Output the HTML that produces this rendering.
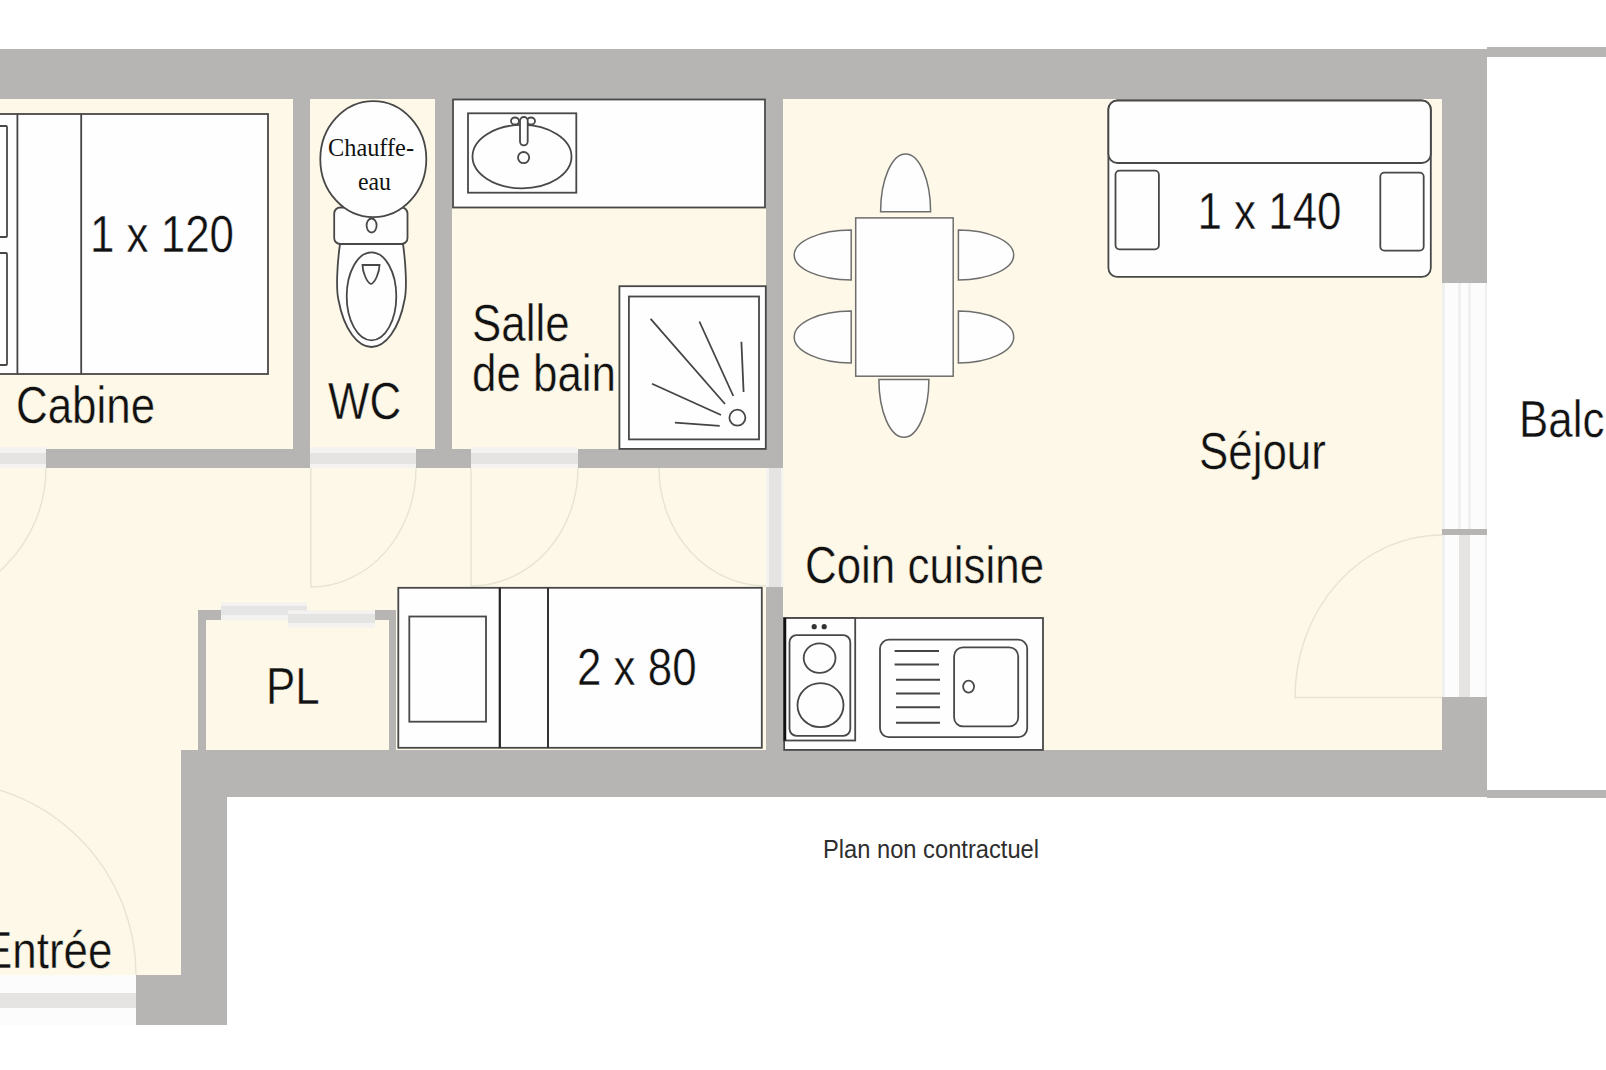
<!DOCTYPE html>
<html><head><meta charset="utf-8">
<style>
html,body{margin:0;padding:0;background:#fff;width:1606px;height:1070px;overflow:hidden}
svg{display:block}
text{font-family:"Liberation Sans",sans-serif;fill:#111}
.f{fill:#fefefe;stroke:#484848;stroke-width:1.8}
.t{fill:#fefefe;stroke:#6e6e6e;stroke-width:1.5}
.ow{stroke:#fefefe;stroke-width:0.4;paint-order:normal}
.ob{stroke:#fdf8e7;stroke-width:0.4;paint-order:normal}
.arc{fill:none;stroke:#e8e4d2;stroke-width:1.4}
</style></head><body>
<svg width="1606" height="1070" viewBox="0 0 1606 1070">
<!-- floor -->
<polygon points="0,99 1442,99 1442,750 181,750 181,975 0,975" fill="#fdf8e7"/>

<!-- door thresholds -->
<g fill="#f4f3f2">
<rect x="0" y="447" width="46" height="21"/>
<rect x="310" y="447" width="106" height="21"/>
<rect x="471" y="447" width="107" height="21"/>
<rect x="766" y="468" width="17" height="119"/>
</g>
<g fill="#fcfcfc">
<rect x="1442" y="283" width="45" height="246"/>
<rect x="1442" y="535" width="45" height="163"/>
<rect x="0" y="975" width="136" height="50"/>
</g>
<g fill="#e5e4e3">
<rect x="0" y="453" width="46" height="11"/>
<rect x="310" y="453" width="106" height="11"/>
<rect x="471" y="453" width="107" height="11"/>
<rect x="769" y="468" width="12" height="119"/>
<rect x="1459" y="535" width="11" height="163"/>
<rect x="0" y="993" width="136" height="15"/>
</g>
<g fill="#f0f0f0">
<rect x="1442" y="283" width="3" height="246"/>
<rect x="1458" y="283" width="3" height="246"/>
<rect x="1468" y="283" width="3" height="246"/>
<rect x="1485" y="283" width="2" height="414"/>
<rect x="1442" y="535" width="3" height="163"/>
</g>
<!-- walls -->
<g fill="#b6b5b3">
<rect x="0" y="49" width="1487" height="50"/>
<rect x="1442" y="49" width="45" height="234"/>
<rect x="1442" y="529" width="45" height="6"/>
<rect x="1442" y="697" width="45" height="100"/>
<rect x="181" y="750" width="1306" height="47"/>
<rect x="181" y="750" width="46" height="275"/>
<rect x="136" y="975" width="91" height="50"/>
<rect x="293" y="99" width="17" height="369"/>
<rect x="435" y="99" width="17" height="369"/>
<rect x="766" y="99" width="17" height="369"/>
<rect x="766" y="587" width="17" height="163"/>
<rect x="46" y="449" width="264" height="19"/>
<rect x="416" y="449" width="55" height="19"/>
<rect x="578" y="449" width="205" height="19"/>
<rect x="198" y="610" width="8" height="140"/>
<rect x="389" y="610" width="7" height="140"/>
<rect x="198" y="610" width="23" height="10"/>
<rect x="375" y="610" width="21" height="10"/>
<rect x="1487" y="47" width="119" height="10"/>
<rect x="1487" y="790" width="119" height="8"/>
</g>

<!-- PL sliding doors -->
<rect x="221" y="602.5" width="86" height="18" fill="#f3f2f1"/>
<rect x="221" y="606" width="86" height="9" fill="#e6e5e5"/>
<rect x="288" y="610.5" width="87" height="17" fill="#f3f2f1"/>
<rect x="288" y="614" width="87" height="9" fill="#e4e5e3"/>
<!-- door arcs -->
<g class="arc">
<path d="M46,468 A138,138 0 0 1 -92,606"/>
<path d="M310.8,468 L310.8,587 A105.2,119 0 0 0 416,468"/>
<path d="M471,468 L471,586 A107,118 0 0 0 578,468"/>
<path d="M659,468 A107,118 0 0 0 766,586"/>
<path d="M1442,535 A147,162.5 0 0 0 1295,697.5 L1442,697.5"/>
<path d="M136,975 A193.5,193.5 0 0 0 -57.5,781.5"/>
</g>

<!-- bed 1x120 -->
<rect class="f" x="-10" y="114" width="278" height="260"/>
<line x1="17.4" y1="114" x2="17.4" y2="374" stroke="#444" stroke-width="1.8"/>
<line x1="81.2" y1="114" x2="81.2" y2="374" stroke="#444" stroke-width="1.8"/>
<rect class="f" x="-20" y="126" width="27" height="111" rx="1"/>
<rect class="f" x="-20" y="253" width="27" height="112" rx="1"/>

<!-- WC -->
<rect class="f" x="334.2" y="207.5" width="73.3" height="36.5" rx="6"/>
<path class="f" d="M340,244 C337,265 336,290 338.5,300 C344,330 358,347 371.5,347 C385,347 399,330 404.5,300 C407,290 406,265 403,244 Z"/>
<ellipse class="f" cx="371.5" cy="296.3" rx="24.8" ry="44"/>
<path class="f" d="M362.5,265 L379.5,265 C379.5,272 375,283 371,284 C367,283 362.5,272 362.5,265 Z"/>
<ellipse class="f" cx="373.3" cy="159.2" rx="53" ry="58"/>
<ellipse class="f" cx="371.6" cy="225.5" rx="5" ry="7"/>

<!-- SdB counter -->
<rect class="f" x="453" y="99.5" width="312" height="108"/>
<rect class="f" x="468" y="113.3" width="108.3" height="79.4"/>
<ellipse class="f" cx="522" cy="156.6" rx="49.5" ry="31.7"/>
<ellipse class="f" cx="515" cy="121" rx="4" ry="3.5"/>
<ellipse class="f" cx="531" cy="121" rx="4" ry="3.5"/>
<rect class="f" x="520" y="117" width="7.7" height="28.4" rx="3.8"/>
<circle class="f" cx="523.6" cy="157.6" r="5.6"/>

<!-- shower -->
<rect class="f" x="619.4" y="286.2" width="146.4" height="162.7"/>
<rect class="f" x="628.9" y="296.5" width="130.1" height="142.9"/>
<g stroke="#444" stroke-width="1.8">
<line x1="650.6" y1="318.8" x2="725" y2="404"/>
<line x1="699.4" y1="321.5" x2="733.3" y2="396"/>
<line x1="741.4" y1="341.8" x2="743.6" y2="392"/>
<line x1="652" y1="383.8" x2="721" y2="415"/>
<line x1="675" y1="422.6" x2="719.7" y2="425.8"/>
</g>
<circle class="f" cx="737.4" cy="417.7" r="8"/>

<!-- dining -->
<path class="t" d="M880.6,211.7 A25,57.7 0 0 1 930.6,211.7 Z"/>
<path class="t" d="M878.9,379.6 A25,57.7 0 0 0 928.9,379.6 Z"/>
<path class="t" d="M851.2,230 A57,25 0 0 0 851.2,280 Z"/>
<path class="t" d="M851.2,311 A57,26 0 0 0 851.2,363 Z"/>
<path class="t" d="M958.4,230 A55.3,25 0 0 1 958.4,280 Z"/>
<path class="t" d="M958.4,311 A55.3,26 0 0 1 958.4,363 Z"/>
<rect class="t" x="855.7" y="217.9" width="97.5" height="158.3"/>

<!-- sofa -->
<rect class="f" x="1108.4" y="100.5" width="322.4" height="176.4" rx="9"/>
<rect class="f" x="1108.4" y="100.5" width="322.4" height="62.5" rx="9"/>
<rect class="f" x="1115.5" y="170.7" width="43.4" height="78.6" rx="4"/>
<rect class="f" x="1380.3" y="172.7" width="43.4" height="77.9" rx="4"/>

<!-- bed 2x80 -->
<rect class="f" x="398.3" y="587.8" width="363.5" height="160"/>
<rect class="f" x="409.3" y="616.5" width="76.7" height="105.2"/>
<line x1="499.8" y1="587.8" x2="499.8" y2="747.8" stroke="#222" stroke-width="2.2"/>
<line x1="548" y1="587.8" x2="548" y2="747.8" stroke="#333" stroke-width="2"/>

<!-- kitchen -->
<rect class="f" x="784.1" y="618" width="258.9" height="131.9"/>
<rect class="f" x="784.1" y="618" width="71.1" height="122.5"/>
<line x1="785" y1="618" x2="785" y2="740.5" stroke="#111" stroke-width="2.5"/>
<rect class="f" x="789.5" y="635.2" width="60.8" height="100.6" rx="7"/>
<circle cx="814.2" cy="626.7" r="2.6" fill="#333"/>
<circle cx="824.2" cy="626.7" r="2.6" fill="#333"/>
<ellipse class="f" cx="819.6" cy="658.1" rx="15.9" ry="14.8"/>
<ellipse class="f" cx="820.5" cy="705.2" rx="23" ry="22"/>
<rect class="f" x="880" y="639.7" width="147.2" height="97.5" rx="9"/>
<g stroke="#444" stroke-width="2">
<line x1="894.6" y1="650.9" x2="939" y2="650.9"/>
<line x1="894.6" y1="664.4" x2="939" y2="664.4"/>
<line x1="896" y1="679.8" x2="940" y2="679.8"/>
<line x1="896" y1="693.5" x2="940" y2="693.5"/>
<line x1="896" y1="707.2" x2="940" y2="707.2"/>
<line x1="896" y1="722.7" x2="940" y2="722.7"/>
</g>
<rect class="f" x="954.1" y="647.3" width="64.1" height="79.1" rx="9"/>
<ellipse class="f" cx="968.6" cy="686.6" rx="5.5" ry="6"/>

<!-- labels -->
<g font-size="48">
<text id="t1" class="ow" transform="translate(90,251.7) scale(0.915,1.07)">1 x 120</text>
<text id="t2" class="ob" transform="translate(16,423.4) scale(0.915,1.07)">Cabine</text>
<text id="t3" class="ob" transform="translate(328,418.9) scale(0.915,1.07)">WC</text>
<text id="t4" class="ob" transform="translate(472,340.9) scale(0.915,1.07)">Salle</text>
<text id="t5" class="ob" transform="translate(472,391) scale(0.915,1.07)">de bain</text>
<text id="t6" class="ob" transform="translate(266,704.4) scale(0.915,1.07)">PL</text>
<text id="t7" class="ow" transform="translate(577,685.4) scale(0.915,1.07)">2 x 80</text>
<text id="t8" class="ob" transform="translate(805,583.4) scale(0.915,1.07)">Coin cuisine</text>
<text id="t9" class="ob" transform="translate(1199,469.4) scale(0.915,1.07)">Séjour</text>
<text id="t10" class="ow" transform="translate(1197.5,229.4) scale(0.915,1.07)">1 x 140</text>
<text id="t11" class="ow" transform="translate(1519,437.4) scale(0.915,1.07)">Balc</text>
<text id="t12" class="ob" transform="translate(-17,968.4) scale(0.915,1.07)">Entrée</text>
</g>
<text id="t13" x="823" y="858" font-size="26.5" style="fill:#2e2e2e" textLength="216" lengthAdjust="spacingAndGlyphs">Plan non contractuel</text>
<g font-size="26" fill="#222">
<text id="t14" x="328" y="156" textLength="86" lengthAdjust="spacingAndGlyphs" style="font-family:'Liberation Serif',serif">Chauffe-</text>
<text id="t15" x="358" y="190" textLength="33" lengthAdjust="spacingAndGlyphs" style="font-family:'Liberation Serif',serif">eau</text>
</g>
</svg>
</body></html>
